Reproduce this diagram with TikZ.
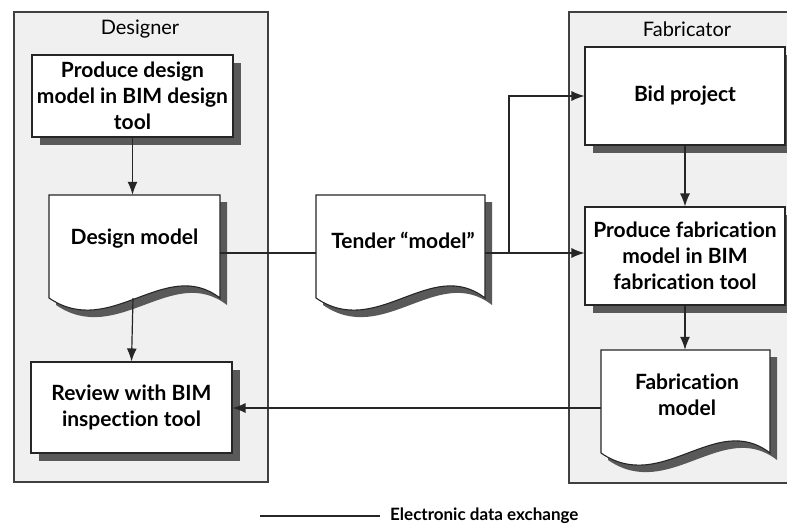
\documentclass[tikz,border=0pt]{standalone}
\usepackage{fontspec}
\setmainfont{Lato}[Ligatures=NoCommon]
\usetikzlibrary{arrows.meta,calc,shadows}
\newcommand\docpath[4]{(#1,#2) -- (#3,#2) -- (#3,#4) .. controls ({#1+0.68*(#3-#1)},{#4-42}) and ({#1+0.36*(#3-#1)},{#4+42}) .. (#1,#4) -- cycle}
\tikzset{
  lane/.style={draw=black!75, fill=black!6, line width=1.2pt},
  lanetitle/.style={font=\fontsize{20}{22}\selectfont, inner sep=0pt},
  shadowc/.style={fill=black!65},
  boxnode/.style={draw=black!85, fill=white, line width=1.1pt, inner sep=0pt,
    font=\bfseries\fontsize{21}{26}\selectfont, align=center,
    drop shadow={shadow xshift=8pt, shadow yshift=-8pt, fill=black!65, opacity=1}},
  docline/.style={draw=black!85, fill=white, line width=1.1pt},
  docnode/.style={inner sep=0pt},
  doctext/.style={font=\bfseries\fontsize{21}{26}\selectfont, align=center, inner sep=0pt},
  conn/.style={draw=black!85, line width=1.2pt},
  arr/.style={conn, -{Latex[length=13pt,width=10pt]}}
}
\begin{document}
\begin{tikzpicture}[x=1pt,y=-1pt]
\useasboundingbox (0,0) rectangle (787,525);
\clip (0,0) rectangle (787,525);
\fill[white] (0,0) rectangle (787,525);
% lanes
\draw[lane] (14,12) rectangle (268,482);
\draw[lane] (569,12) rectangle (800,483);
\node[lanetitle] (tdes) at (140,29) {Designer};
\node[lanetitle] (tfab) at (687,29) {Fabricator};
% boxes
\node[boxnode, minimum width=201pt, minimum height=82pt] (pd) at (132.5,96) {Produce design\\model in BIM design\\tool};
\node[boxnode, minimum width=201pt, minimum height=91pt] (rv) at (131.5,407.5) {Review with BIM\\inspection tool};
\node[boxnode, minimum width=200pt, minimum height=98pt] (bid) at (685,96) {Bid project};
\node[boxnode, minimum width=200pt, minimum height=98pt] (pf) at (685,256) {Produce fabrication\\model in BIM\\fabrication tool};
% documents
\fill[shadowc, shift={(7,7)}] \docpath{49}{195}{220}{298};
\draw[docline] \docpath{49}{195}{220}{298};
\node[docnode, minimum width=171pt, minimum height=116pt] (dm) at (134.5,253) {};
\node[doctext] (dmt) at (134.5,239) {Design model};
\fill[shadowc, shift={(7,7)}] \docpath{316}{195}{485}{298};
\draw[docline] \docpath{316}{195}{485}{298};
\node[docnode, minimum width=169pt, minimum height=116pt] (td) at (400.5,253) {};
\node[doctext] (tdt) at (403,240) {Tender “model”};
\fill[shadowc, shift={(7,7)}] \docpath{601}{350}{770}{453};
\draw[docline] \docpath{601}{350}{770}{453};
\node[docnode, minimum width=169pt, minimum height=116pt] (fm) at (685.5,408) {};
\node[doctext] (fmt) at (687,395) {Fabrication\\model};
% connectors
\draw[arr] (pd.south) -- (pd.south |- dm.north);
\draw[arr] ($(dm.south)+(-1.5,-13)$) -- (rv.north);
\draw[conn] (dm.east) -- (td.west);
\coordinate (br) at (509,253);
\draw[conn] (td.east) -- (br);
\draw[arr] (br) |- (bid.west);
\draw[arr] (br) -- (br -| pf.west);
\draw[arr] (bid.south) -- (pf.north);
\draw[arr] (pf.south) -- (pf.south |- fm.north);
\draw[arr] (fm.west) -- (fm.west -| rv.east);
% legend
\coordinate (l1) at (260,516);
\coordinate (l2) at (380,516);
\draw[conn] (l1) -- (l2);
\node[anchor=west, font=\bfseries\fontsize{17}{18}\selectfont, inner sep=0pt] (lg) at (390,516) {Electronic data exchange};
\end{tikzpicture}
\end{document}
